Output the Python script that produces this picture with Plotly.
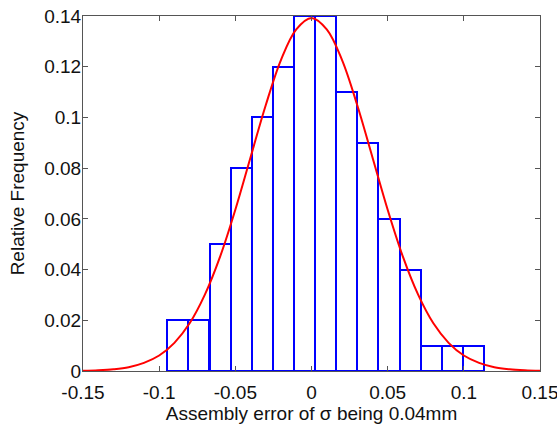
import plotly.graph_objects as go

# Histogram (15 bins)
bin_centers = [-0.0878, -0.0739, -0.0600, -0.0462, -0.0323, -0.0184, -0.0046,
               0.0093, 0.0232, 0.0370, 0.0509, 0.0648, 0.0786, 0.0925, 0.1064]
bin_width = 0.01387
rel_freq = [0.02, 0.02, 0.05, 0.08, 0.10, 0.12, 0.14,
            0.14, 0.11, 0.09, 0.06, 0.04, 0.01, 0.01, 0.01]

# Fitted normal curve
curve_x = [-0.15, -0.14, -0.13, -0.12, -0.11, -0.10, -0.09, -0.08, -0.07, -0.06,
           -0.05, -0.04, -0.03, -0.02, -0.01, 0.0, 0.01, 0.02, 0.03, 0.04,
           0.05, 0.06, 0.07, 0.08, 0.09, 0.10, 0.11, 0.12, 0.13, 0.14, 0.15]
curve_y = [0.0001, 0.0003, 0.0007, 0.0015, 0.0032, 0.0061, 0.0111, 0.0188, 0.0301, 0.0451,
           0.0636, 0.0843, 0.1049, 0.1227, 0.1347, 0.1392, 0.1347, 0.1227, 0.1049, 0.0843,
           0.0636, 0.0451, 0.0301, 0.0188, 0.0111, 0.0061, 0.0032, 0.0015, 0.0007, 0.0003, 0.0001]

x_ticks = [-0.15, -0.1, -0.05, 0, 0.05, 0.1, 0.15]
x_tick_labels = ["-0.15", "-0.1", "-0.05", "0", "0.05", "0.1", "0.15"]
y_ticks = [0, 0.02, 0.04, 0.06, 0.08, 0.1, 0.12, 0.14]
y_tick_labels = ["0", "0.02", "0.04", "0.06", "0.08", "0.1", "0.12", "0.14"]

FONT = "Liberation Sans, Arial"
FS = 19

fig = go.Figure()
fig.add_trace(go.Bar(
    x=bin_centers, y=rel_freq, width=[bin_width] * len(bin_centers),
    marker=dict(color="rgba(0,0,0,0)", line=dict(color="#0000FF", width=2)),
    showlegend=False,
))
fig.add_trace(go.Scatter(
    x=curve_x, y=curve_y, mode="lines",
    line=dict(color="#FF0000", width=2, shape="spline"),
    showlegend=False,
))

axis_common = dict(
    showline=True, linecolor="#555555", linewidth=1, mirror="ticks",
    ticks="inside", ticklen=5, tickcolor="#555555", showgrid=False, zeroline=False,
    automargin=False, layer="above traces", ticklabeloverflow="allow",
    tickfont=dict(family=FONT, size=FS, color="#111111"),
)

fig.update_layout(
    width=557, height=427,
    margin=dict(l=83, r=17, t=16, b=56),
    paper_bgcolor="white", plot_bgcolor="white",
    bargap=0,
    font=dict(family=FONT, size=FS, color="#111111"),
    xaxis=dict(range=[-0.15, 0.15], tickvals=x_ticks, ticktext=x_tick_labels,
               ticklabelstandoff=4,
               title=dict(text="Assembly error of σ being 0.04mm", standoff=2,
                          font=dict(size=FS)),
               **axis_common),
    yaxis=dict(range=[0, 0.14], tickvals=y_ticks, ticktext=y_tick_labels,
               ticklabelstandoff=-3,
               title=dict(text="Relative Frequency", standoff=14, font=dict(size=FS)),
               **axis_common),
)

fig.write_html("out.html")
